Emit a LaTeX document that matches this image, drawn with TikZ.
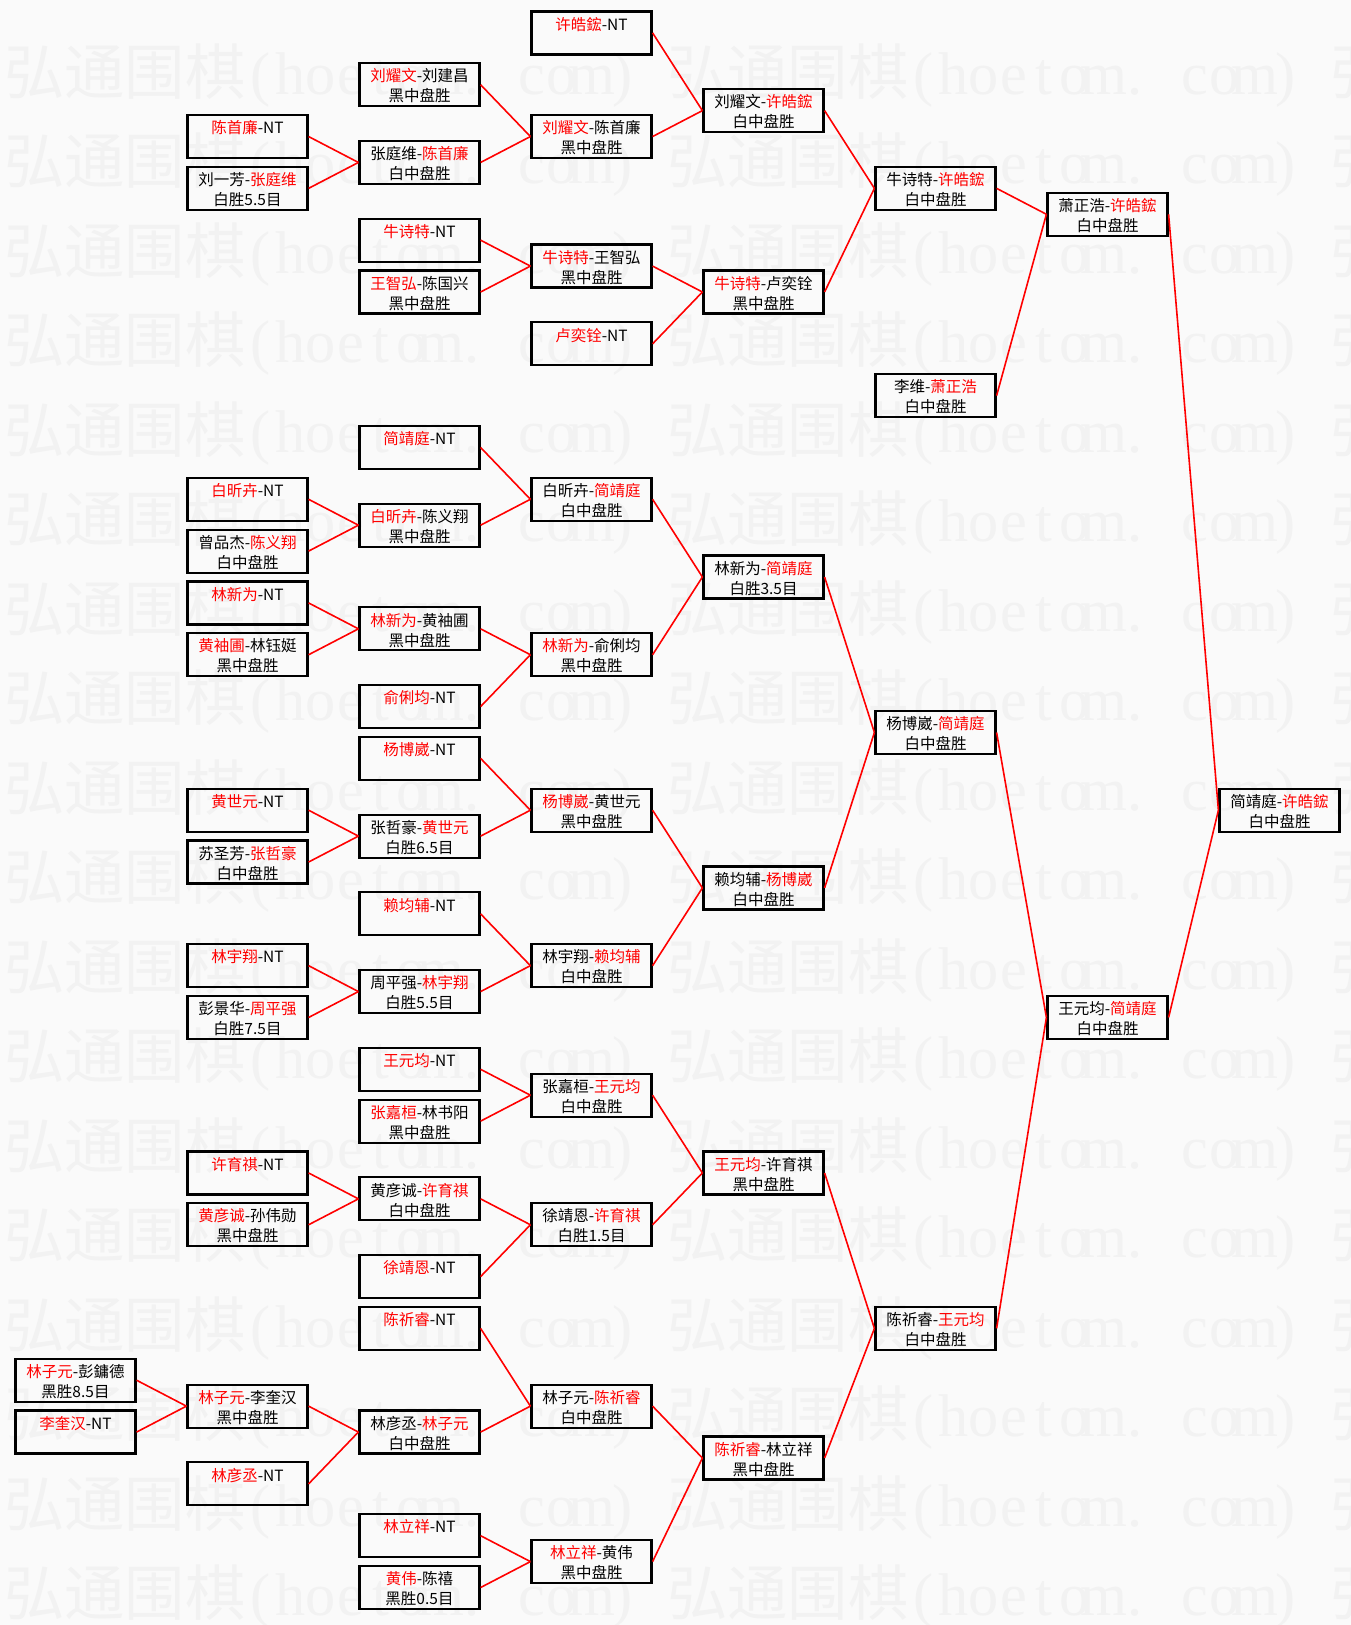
\documentclass[tikz,border=0pt]{standalone}
\usepackage{fontspec}
\setmainfont{Noto Sans CJK SC}
\newfontfamily\wmlat{Liberation Serif}
\definecolor{lred}{RGB}{255,0,0}
\definecolor{bgc}{RGB}{250,250,250}
\definecolor{wmc}{RGB}{242,242,242}
\newcommand\R[1]{\textcolor{lred}{#1}}
\newcommand\hw[1]{\makebox[30.15pt]{#1}}
\newcommand\wmtext{弘通围棋{\wmlat\hw{(}\hw{h}\hw{o}\hw{e}\hw{t}\hw{o}\hw{m}\hw{.}\hw{\ }\hw{c}\hw{o}\hw{m}\hw{)}}}
\newcommand\mb[4]{\node[mbox] (b#1x#2) at ({75.5+172*#1},{32.9+25.91*#2}) {\rule{0pt}{18.7pt}#3\\\rule[-4.3pt]{0pt}{4.3pt}#4};}
\begin{document}
\begin{tikzpicture}[x=1pt,y=-1pt,
  mbox/.style={draw=black, line width=2.2pt, minimum width=120pt, minimum height=43pt,
    inner sep=0pt, align=center, font=\fontsize{15.5}{20}\selectfont, text=black},
  link/.style={draw=lred, line width=1.6pt},
  wm/.style={anchor=base west, inner sep=0pt, font=\fontsize{60.3}{60.3}\selectfont,
    text=wmc}]
\fill[bgc] (0,0) rectangle (1351,1625);
\useasboundingbox (0,0) rectangle (1351,1625);

% watermark (drawn first, beneath the diagram)
\begin{scope}
  \clip (0,0) rectangle (1351,1625);
  \foreach \k in {0,...,17} {
    \foreach \c in {0,1,2} {
      \node[wm] (wm\k x\c) at ({4+663*\c},{94+89.5*\k}) {\wmtext};
    }
  }
\end{scope}

% column 0
\mb{0}{52}{\R{林子元}-彭鏞德}{黑胜8.5目}
\mb{0}{54}{\R{李奎汉}-NT}{}
% column 1
\mb{1}{4}{\R{陈首廉}-NT}{}
\mb{1}{6}{刘一芳-\R{张庭维}}{白胜5.5目}
\mb{1}{18}{\R{白昕卉}-NT}{}
\mb{1}{20}{曾品杰-\R{陈义翔}}{白中盘胜}
\mb{1}{22}{\R{林新为}-NT}{}
\mb{1}{24}{\R{黄袖圃}-林钰娗}{黑中盘胜}
\mb{1}{30}{\R{黄世元}-NT}{}
\mb{1}{32}{苏圣芳-\R{张哲豪}}{白中盘胜}
\mb{1}{36}{\R{林宇翔}-NT}{}
\mb{1}{38}{彭景华-\R{周平强}}{白胜7.5目}
\mb{1}{44}{\R{许育祺}-NT}{}
\mb{1}{46}{\R{黄彦诚}-孙伟勋}{黑中盘胜}
\mb{1}{53}{\R{林子元}-李奎汉}{黑中盘胜}
\mb{1}{56}{\R{林彦丞}-NT}{}
% column 2
\mb{2}{2}{\R{刘耀文}-刘建昌}{黑中盘胜}
\mb{2}{5}{张庭维-\R{陈首廉}}{白中盘胜}
\mb{2}{8}{\R{牛诗特}-NT}{}
\mb{2}{10}{\R{王智弘}-陈国兴}{黑中盘胜}
\mb{2}{16}{\R{简靖庭}-NT}{}
\mb{2}{19}{\R{白昕卉}-陈义翔}{黑中盘胜}
\mb{2}{23}{\R{林新为}-黄袖圃}{黑中盘胜}
\mb{2}{26}{\R{俞俐均}-NT}{}
\mb{2}{28}{\R{杨博崴}-NT}{}
\mb{2}{31}{张哲豪-\R{黄世元}}{白胜6.5目}
\mb{2}{34}{\R{赖均辅}-NT}{}
\mb{2}{37}{周平强-\R{林宇翔}}{白胜5.5目}
\mb{2}{40}{\R{王元均}-NT}{}
\mb{2}{42}{\R{张嘉桓}-林书阳}{黑中盘胜}
\mb{2}{45}{黄彦诚-\R{许育祺}}{白中盘胜}
\mb{2}{48}{\R{徐靖恩}-NT}{}
\mb{2}{50}{\R{陈祈睿}-NT}{}
\mb{2}{54}{林彦丞-\R{林子元}}{白中盘胜}
\mb{2}{58}{\R{林立祥}-NT}{}
\mb{2}{60}{\R{黄伟}-陈禧}{黑胜0.5目}
% column 3
\mb{3}{0}{\R{许皓鋐}-NT}{}
\mb{3}{4}{\R{刘耀文}-陈首廉}{黑中盘胜}
\mb{3}{9}{\R{牛诗特}-王智弘}{黑中盘胜}
\mb{3}{12}{\R{卢奕铨}-NT}{}
\mb{3}{18}{白昕卉-\R{简靖庭}}{白中盘胜}
\mb{3}{24}{\R{林新为}-俞俐均}{黑中盘胜}
\mb{3}{30}{\R{杨博崴}-黄世元}{黑中盘胜}
\mb{3}{36}{林宇翔-\R{赖均辅}}{白中盘胜}
\mb{3}{41}{张嘉桓-\R{王元均}}{白中盘胜}
\mb{3}{46}{徐靖恩-\R{许育祺}}{白胜1.5目}
\mb{3}{53}{林子元-\R{陈祈睿}}{白中盘胜}
\mb{3}{59}{\R{林立祥}-黄伟}{黑中盘胜}
% column 4
\mb{4}{3}{刘耀文-\R{许皓鋐}}{白中盘胜}
\mb{4}{10}{\R{牛诗特}-卢奕铨}{黑中盘胜}
\mb{4}{21}{林新为-\R{简靖庭}}{白胜3.5目}
\mb{4}{33}{赖均辅-\R{杨博崴}}{白中盘胜}
\mb{4}{44}{\R{王元均}-许育祺}{黑中盘胜}
\mb{4}{55}{\R{陈祈睿}-林立祥}{黑中盘胜}
% column 5
\mb{5}{6}{牛诗特-\R{许皓鋐}}{白中盘胜}
\mb{5}{14}{李维-\R{萧正浩}}{白中盘胜}
\mb{5}{27}{杨博崴-\R{简靖庭}}{白中盘胜}
\mb{5}{50}{陈祈睿-\R{王元均}}{白中盘胜}
% column 6
\mb{6}{7}{萧正浩-\R{许皓鋐}}{白中盘胜}
\mb{6}{38}{王元均-\R{简靖庭}}{白中盘胜}
% column 7
\mb{7}{30}{简靖庭-\R{许皓鋐}}{白中盘胜}

% connectors: parent / child1 / child2
\foreach \p/\a/\b in {
  b4x3/b3x0/b3x4, b3x4/b2x2/b2x5, b2x5/b1x4/b1x6, b5x6/b4x3/b4x10,
  b4x10/b3x9/b3x12, b3x9/b2x8/b2x10, b6x7/b5x6/b5x14, b7x30/b6x7/b6x38,
  b3x18/b2x16/b2x19, b2x19/b1x18/b1x20, b4x21/b3x18/b3x24, b3x24/b2x23/b2x26,
  b2x23/b1x22/b1x24, b5x27/b4x21/b4x33, b4x33/b3x30/b3x36, b3x30/b2x28/b2x31,
  b2x31/b1x30/b1x32, b3x36/b2x34/b2x37, b2x37/b1x36/b1x38, b6x38/b5x27/b5x50,
  b5x50/b4x44/b4x55, b4x44/b3x41/b3x46, b3x41/b2x40/b2x42, b3x46/b2x45/b2x48,
  b2x45/b1x44/b1x46, b4x55/b3x53/b3x59, b3x53/b2x50/b2x54, b2x54/b1x53/b1x56,
  b1x53/b0x52/b0x54, b3x59/b2x58/b2x60}
{
  \draw[link] (\a.east) -- (\p.west);
  \draw[link] (\b.east) -- (\p.west);
}
\end{tikzpicture}
\end{document}
